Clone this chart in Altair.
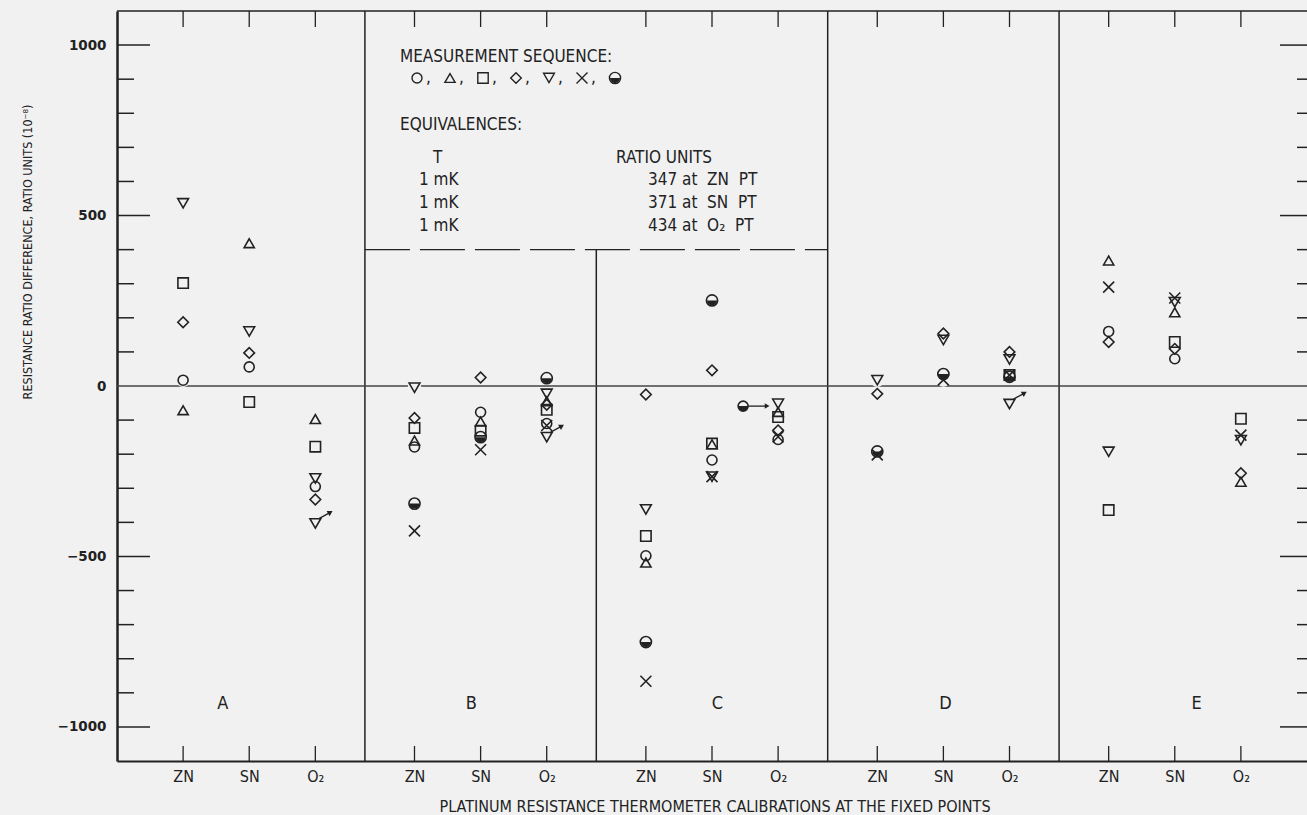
import math
import altair as alt
import pandas as pd

BG = "#f1f1f1"
INK = "#222222"
NARROW = "Liberation Sans Narrow, DejaVu Sans Condensed, sans-serif"

# ---------------- data ----------------
groups = ["A", "B", "C", "D", "E"]
fixed_points = ["ZN", "SN", "O₂"]
# x positions of the 15 calibrations (A-ZN, A-SN, A-O2, B-ZN, ... E-O2)
positions = [0, 1, 2, 3.5, 4.5, 5.5, 7, 8, 9, 10.5, 11.5, 12.5, 14, 15, 16]
group_label_pos = [0.6, 4.36, 8.08, 11.53, 15.33]

# measurement sequence values (ratio units, 1e-8), order A-ZN ... E-O2
circle        = [17, 56, -295, -179, -77, -110, -498, -217, -157, None, None, None, 160, 80, None]
triangle_up   = [-71, 419, -97, -160, -104, -45, -518, -171, -76, None, None, None, 368, 216, -281]
square        = [302, -47, -178, -123, -131, -70, -440, -169, -91, None, None, 32, -364, 129, -96]
diamond       = [187, 97, -333, -94, 25, -55, -25, 46, -130, -23, 154, 100, 129, 109, -256]
triangle_down = [536, 160, -271, -5, None, -23, -362, -266, -52, 17, 135, 78, -193, 246, -159]
cross         = [None, None, None, -425, -187, -116, -866, -266, -149, -202, 18, 32, 290, 258, -144]
half_filled   = [None, None, None, -345, -150, 23, -751, 251, None, -192, 35, 27, None, None, None]
flagged_triangle_down = [None, None, -403, None, None, -150, None, None, None, None, None, -53, None, None, None]
displaced_half_filled = [None, None, None, None, None, None, None, None, -59, None, None, None, None, None, None]

series = {
    "circle": circle,
    "triangle_up": triangle_up,
    "square": square,
    "diamond": diamond,
    "triangle_down": triangle_down,
    "cross": cross,
    "half": half_filled,
}
sym_order = ["circle", "triangle_up", "square", "diamond", "triangle_down", "cross", "half"]
sym_shapes = ["circle", "triangle-up", "square", "diamond", "triangle-down",
              "M-1,-1L1,1M-1,1L1,-1", "circle"]
sym_sizes = [100, 125, 81, 180, 125, 170, 100]

# lower half-disc symbol path (unit box -1..1), drawn as a polygon
_half_pts = [(math.cos(math.pi * k / 16), math.sin(math.pi * k / 16)) for k in range(17)]
HALF_FILL = "M" + "L".join(f"{x:.3f},{y:.3f}" for x, y in _half_pts) + "Z"

major_ticks = [-1000, -500, 500, 1000]
minor_ticks = [-900, -800, -700, -600, -400, -300, -200, -100, 100, 200, 300, 400, 600, 700, 800, 900]
y_labels = [-1000, -500, 0, 500, 1000]

rows = []
for s, vals in series.items():
    for i, v in enumerate(vals):
        if v is not None:
            rows.append({"pos": positions[i], "value": v, "sym": s})
for i, v in enumerate(flagged_triangle_down):
    if v is not None:
        rows.append({"pos": positions[i], "value": v, "sym": "triangle_down"})
pts = pd.DataFrame(rows)
flags = pd.DataFrame([{"pos": positions[i], "value": v} for i, v in enumerate(flagged_triangle_down) if v is not None])
disp = pd.DataFrame([{"pos": positions[i], "value": v, "sym": "half"} for i, v in enumerate(displaced_half_filled) if v is not None])

# ---------------- layout ----------------
W, H = 1190, 750
xs = alt.Scale(domain=[-1, 17], nice=False, zero=False)
ys = alt.Scale(domain=[-1100, 1100], nice=False, zero=False)
shape_scale = alt.Scale(domain=sym_order, range=sym_shapes)
size_scale = alt.Scale(domain=sym_order, range=sym_sizes)

label_expr = " : ".join(f"datum.value == {p} ? '{fixed_points[i % 3]}'" for i, p in enumerate(positions)) + " : ''"

x_axis = alt.Axis(values=positions, labelExpr=label_expr, ticks=False, domain=True, domainWidth=2,
                  domainColor=INK, grid=False, labelFont=NARROW, labelFontSize=16, labelColor=INK,
                  labelPadding=7, title=None, labelFlush=False, labelOverlap=False)
y_axis = alt.Axis(values=y_labels, format="d", ticks=False, domain=True, domainWidth=2.5, domainColor=INK, grid=False,
                  labelFont="DejaVu Sans", labelFontWeight="bold", labelFontSize=13.5, labelColor=INK,
                  labelPadding=11, title=None)

def X(f="pos"):
    return alt.X(f"{f}:Q", scale=xs, axis=x_axis)

def Y(f="value"):
    return alt.Y(f"{f}:Q", scale=ys, axis=y_axis)

# dividers
div_df = pd.DataFrame({"pos": [2.75, 6.25, 9.75, 13.25], "top": [1100, 400, 1100, 1100], "bot": [-1100, -1100, -1100, -1100]})
dividers = alt.Chart(div_df).mark_rule(color=INK, strokeWidth=1.5).encode(x=X(), y=Y("top"), y2="bot:Q")
dash_df = pd.DataFrame({"x1": [2.75], "x2": [9.75], "y": [400]})
dashed = alt.Chart(dash_df).mark_rule(color=INK, strokeWidth=1.3, strokeDash=[45, 10]).encode(x=X("x1"), x2="x2:Q", y=Y("y"))
zero_df = pd.DataFrame({"y": [0]})
zero = alt.Chart(zero_df).mark_rule(color="#444", strokeWidth=1.3).encode(y=Y("y"), x=alt.value(0), x2=alt.value(W))
top_border = alt.Chart(zero_df).mark_rule(color=INK, strokeWidth=1.5).encode(y=alt.value(0), x=alt.value(0), x2=alt.value(W))

maj = pd.DataFrame({"y": major_ticks})
mnr = pd.DataFrame({"y": minor_ticks})
tick_left_major = alt.Chart(maj).mark_rule(color=INK, strokeWidth=1.5).encode(y=Y("y"), x=alt.value(0), x2=alt.value(33))
tick_left_minor = alt.Chart(mnr).mark_rule(color=INK, strokeWidth=1.5).encode(y=Y("y"), x=alt.value(0), x2=alt.value(17))
tick_right_major = alt.Chart(maj).mark_rule(color=INK, strokeWidth=1.5).encode(y=Y("y"), x=alt.value(W - 27), x2=alt.value(W))
tick_right_minor = alt.Chart(mnr).mark_rule(color=INK, strokeWidth=1.5).encode(y=Y("y"), x=alt.value(W - 10), x2=alt.value(W))
pos_df = pd.DataFrame({"pos": positions})
tick_bottom = alt.Chart(pos_df).mark_rule(color=INK, strokeWidth=1.3).encode(x=X(), y=alt.value(H), y2=alt.value(H - 15))
tick_top = alt.Chart(pos_df).mark_rule(color=INK, strokeWidth=1.3).encode(x=X(), y=alt.value(0), y2=alt.value(16))

# points
halo = alt.Chart(pts).mark_point(filled=True, shape="circle", size=190, opacity=1, color=BG).encode(x=X(), y=Y())
points = alt.Chart(pts).mark_point(filled=False, opacity=1, strokeWidth=1.6).encode(
    x=X(), y=Y(),
    shape=alt.Shape("sym:N", scale=shape_scale, legend=None),
    size=alt.Size("sym:N", scale=size_scale, legend=None),
    color=alt.value(INK))
half_fill = alt.Chart(pts).transform_filter(alt.datum.sym == "half").mark_point(
    filled=True, shape=HALF_FILL, size=100, opacity=1, color=INK).encode(x=X(), y=Y())

flag_line = alt.Chart(flags).mark_rule(color=INK, strokeWidth=1.3, xOffset=4, yOffset=-5, x2Offset=15, y2Offset=-11).encode(
    x=X(), y=Y(), x2="pos:Q", y2="value:Q")
flag_tip = alt.Chart(flags).mark_point(filled=True, shape="triangle-up", size=35, angle=60, opacity=1, color=INK,
                                       xOffset=15, yOffset=-11).encode(x=X(), y=Y())

disp_halo = alt.Chart(disp).mark_point(filled=True, shape="circle", size=150, opacity=1, color=BG, xOffset=-35).encode(x=X(), y=Y())
disp_ring = alt.Chart(disp).mark_point(filled=False, shape="circle", size=100, opacity=1, color=INK, strokeWidth=1.6,
                                       xOffset=-35).encode(x=X(), y=Y())
disp_fill = alt.Chart(disp).mark_point(filled=True, shape=HALF_FILL, size=100, opacity=1, color=INK, xOffset=-35).encode(x=X(), y=Y())
disp_arrow = alt.Chart(disp).mark_rule(color=INK, strokeWidth=1.3, xOffset=-30, x2Offset=-13).encode(
    x=X(), y=Y(), x2="pos:Q")
disp_head = alt.Chart(disp).mark_point(filled=True, shape="triangle-right", size=30, opacity=1, color=INK,
                                       xOffset=-11).encode(x=X(), y=Y())

# legend symbol row
leg = pd.DataFrame({"sym": sym_order, "i": list(range(len(sym_order)))})
leg_syms = alt.Chart(leg).transform_calculate(px="300 + 33 * datum.i", py="67").mark_point(
    filled=False, opacity=1, strokeWidth=1.4).encode(
    x=alt.X("px:Q", scale=None, axis=None), y=alt.Y("py:Q", scale=None, axis=None),
    shape=alt.Shape("sym:N", scale=shape_scale, legend=None),
    size=alt.Size("sym:N", scale=size_scale, legend=None), color=alt.value(INK))
leg_fill = alt.Chart(leg).transform_filter(alt.datum.sym == "half").transform_calculate(
    px="300 + 33 * datum.i", py="67").mark_point(filled=True, shape=HALF_FILL, size=100, opacity=1, color=INK).encode(
    x=alt.X("px:Q", scale=None, axis=None), y=alt.Y("py:Q", scale=None, axis=None))
leg_commas = alt.Chart(leg).transform_filter(alt.datum.i < 6).transform_calculate(
    px="300 + 33 * datum.i + 9", py="72", t="','").mark_text(
    align="left", baseline="alphabetic", font=NARROW, fontSize=17, color=INK).encode(
    x=alt.X("px:Q", scale=None, axis=None), y=alt.Y("py:Q", scale=None, axis=None), text="t:N")

notes = pd.DataFrame([
    {"t": "MEASUREMENT SEQUENCE:", "px": 283, "py": 51},
    {"t": "EQUIVALENCES:", "px": 283, "py": 119},
    {"t": "T", "px": 316, "py": 152},
    {"t": "RATIO UNITS", "px": 499, "py": 152},
    {"t": "1 mK", "px": 302, "py": 174},
    {"t": "1 mK", "px": 302, "py": 197},
    {"t": "1 mK", "px": 302, "py": 220},
    {"t": "347 at \u00a0ZN \u00a0PT", "px": 531, "py": 174},
    {"t": "371 at \u00a0SN \u00a0PT", "px": 531, "py": 197},
    {"t": "434 at \u00a0O₂ \u00a0PT", "px": 531, "py": 220},
])
note_text = alt.Chart(notes).mark_text(align="left", baseline="alphabetic", font=NARROW, fontSize=17, color=INK).encode(
    x=alt.X("px:Q", scale=None, axis=None), y=alt.Y("py:Q", scale=None, axis=None), text="t:N")

glab = pd.DataFrame({"pos": group_label_pos, "g": groups, "y": [-932] * 5})
group_text = alt.Chart(glab).mark_text(font=NARROW, fontSize=18, color=INK, baseline="middle").encode(
    x=X(), y=Y("y"), text="g:N")

titles = pd.DataFrame([
    {"t": "PLATINUM RESISTANCE THERMOMETER CALIBRATIONS AT THE FIXED POINTS", "px": 598, "py": 801},
])
x_title = alt.Chart(titles).mark_text(align="center", baseline="alphabetic", font=NARROW, fontSize=16, color=INK).encode(
    x=alt.X("px:Q", scale=None, axis=None), y=alt.Y("py:Q", scale=None, axis=None), text="t:N")
ytitle_df = pd.DataFrame([{"t": "RESISTANCE RATIO DIFFERENCE, RATIO UNITS (10⁻⁸)", "px": -89, "py": 241}])
y_title = alt.Chart(ytitle_df).mark_text(align="center", baseline="middle", angle=270, font=NARROW, fontSize=12.5, color=INK).encode(
    x=alt.X("px:Q", scale=None, axis=None), y=alt.Y("py:Q", scale=None, axis=None), text="t:N")

chart = alt.layer(
    dividers, dashed, zero, top_border,
    tick_left_major, tick_left_minor, tick_right_major, tick_right_minor, tick_bottom, tick_top,
    halo, points, half_fill, flag_line, flag_tip,
    disp_halo, disp_ring, disp_fill, disp_arrow, disp_head,
    leg_syms, leg_fill, leg_commas, note_text, group_text, x_title, y_title,
).properties(
    width=W, height=H, background=BG,
    padding={"left": 117, "top": 11, "right": 0, "bottom": 54},
    autosize=alt.AutoSizeParams(type="none"),
).configure_view(stroke=None)

chart.save("out.html", embed_options={"renderer": "svg", "actions": False})
